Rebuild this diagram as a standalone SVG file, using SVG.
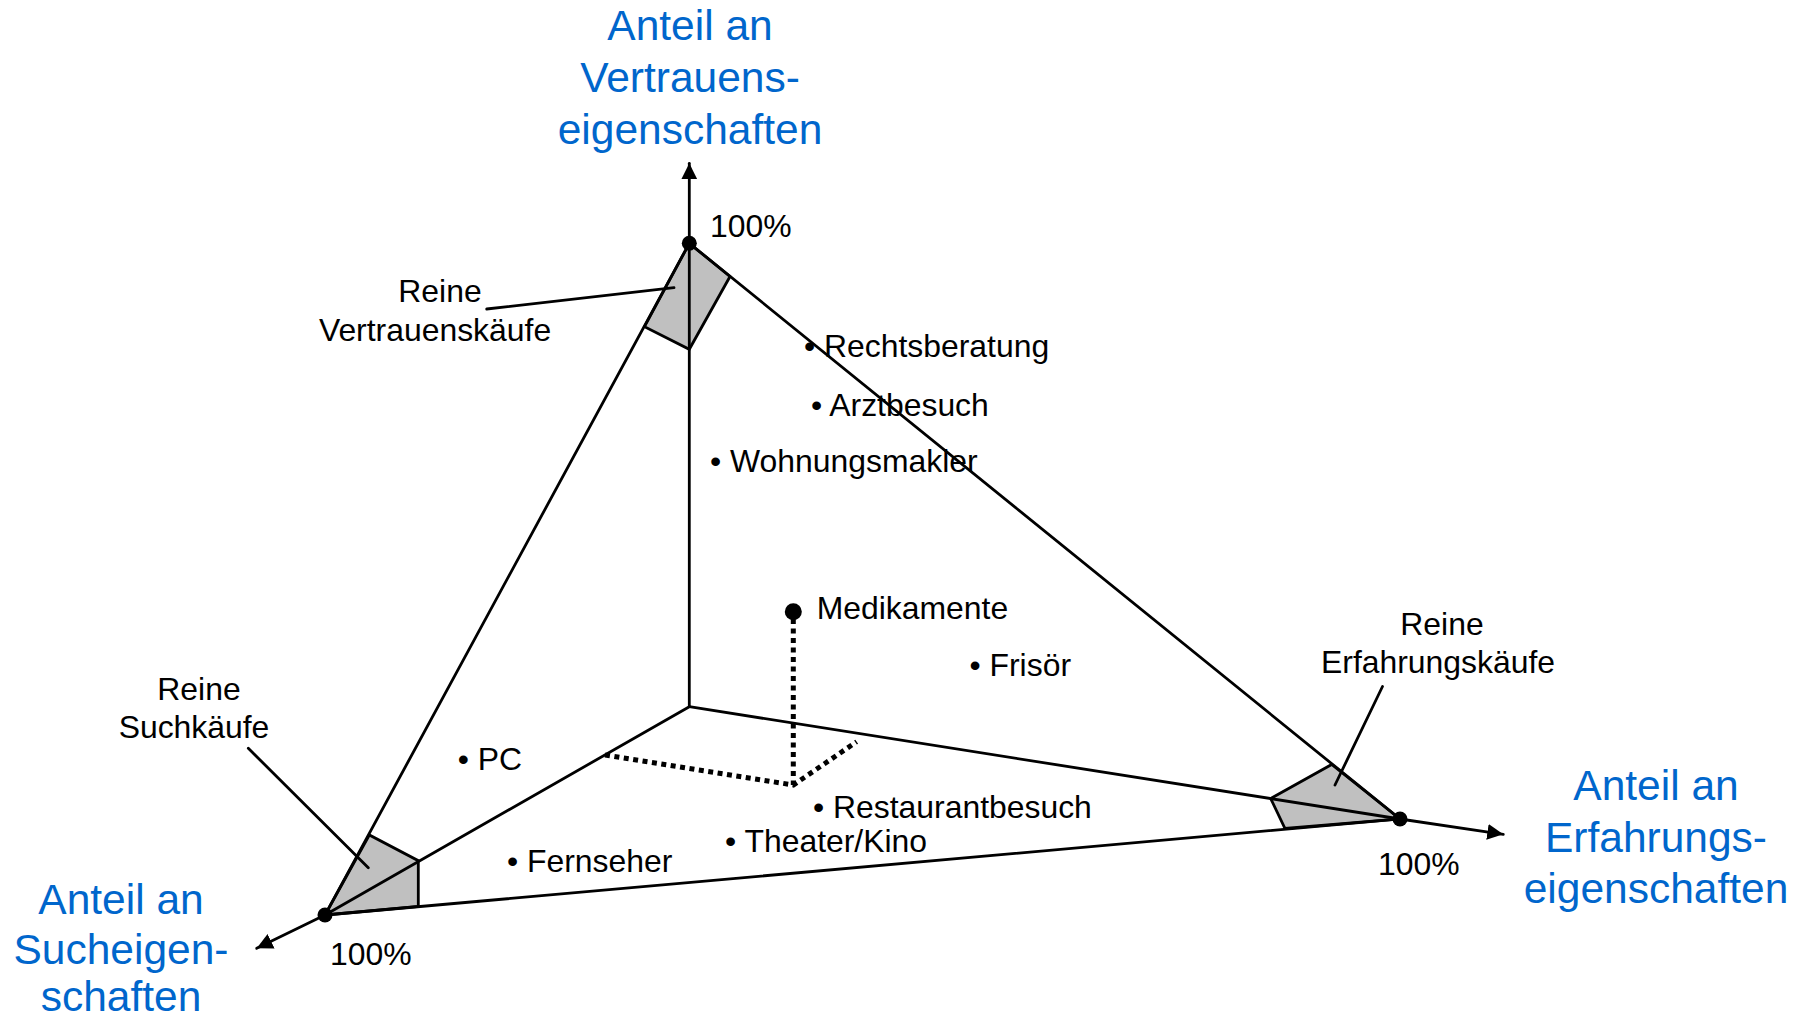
<svg xmlns="http://www.w3.org/2000/svg" width="1805" height="1021" viewBox="0 0 1805 1021">
  <style>
    .line { stroke: #000; stroke-width: 2.8; fill: none; stroke-linecap: round; }
    .zone { fill: #c0c0c0; stroke: #000; stroke-width: 2.8; stroke-linejoin: miter; }
    .dot { fill: #000; }
    .dotted { stroke: #000; stroke-width: 5; fill: none; stroke-dasharray: 5 4.5; }
    .lbl { font-family: "Liberation Sans", Arial, sans-serif; font-size: 31.9px; fill: #000; }
    .axis { font-family: "Liberation Sans", Arial, sans-serif; font-size: 42.5px; fill: #0066cc; text-anchor: middle; }
    .mid { text-anchor: middle; }
  </style>
  <defs>
    <marker id="arrow" viewBox="0 0 10 10" refX="10" refY="5" markerWidth="16" markerHeight="16" markerUnits="userSpaceOnUse" orient="auto">
      <path d="M0,0 L10,5 L0,10 z" fill="#000"/>
    </marker>
  </defs>
  <rect width="1805" height="1021" fill="#fff"/>

  <!-- corner regions of pure purchase types -->
  <g id="zone-vertrauen"><polygon class="zone" points="689.3,243.3 730,276.5 689.3,349.3 644.5,326.7"/></g>
  <g id="zone-such"><polygon class="zone" points="325,915 369.3,835 418.3,860.7 418.3,906.5"/></g>
  <g id="zone-erfahrung"><polygon class="zone" points="1400,819 1331.7,764.5 1270.7,798.5 1285,828.5"/></g>

  <!-- axes, triangle, leaders -->
  <g id="connectors">
    <line class="line" x1="689.3" y1="706.7" x2="689.3" y2="163.3" marker-end="url(#arrow)"/>
    <line class="line" x1="689.3" y1="706.7" x2="1400" y2="819"/>
    <line class="line" x1="1400" y1="819" x2="1503.3" y2="834.3" marker-end="url(#arrow)"/>
    <line class="line" x1="689.3" y1="706.7" x2="325" y2="915"/>
    <line class="line" x1="325" y1="915" x2="256.7" y2="948.3" marker-end="url(#arrow)"/>
    <polygon class="line" points="689.3,243.3 325,915 1400,819"/>
    <line class="line" x1="486.7" y1="309" x2="674" y2="287.7"/>
    <line class="line" x1="248.3" y1="748.3" x2="368.3" y2="867.7"/>
    <line class="line" x1="1382.5" y1="686.5" x2="1335" y2="785"/>
    <polyline class="dotted" points="605,755 793.3,785 856.7,741.7"/>
    <line class="dotted" x1="793.3" y1="619" x2="793.3" y2="785"/>
  </g>

  <!-- corner points -->
  <g id="vertex-top"><circle class="dot" cx="689.3" cy="243.3" r="7.5"/><text class="lbl" x="710" y="236.7">100%</text></g>
  <g id="vertex-left"><circle class="dot" cx="325" cy="915" r="7.5"/><text class="lbl" x="330" y="965">100%</text></g>
  <g id="vertex-right"><circle class="dot" cx="1400" cy="819" r="7.5"/><text class="lbl" x="1378" y="875">100%</text></g>

  <!-- axis titles -->
  <g id="axis-vertrauen">
    <text class="axis" x="690" y="40">Anteil an</text>
    <text class="axis" x="690" y="92">Vertrauens-</text>
    <text class="axis" x="690" y="144">eigenschaften</text>
  </g>
  <g id="axis-such">
    <text class="axis" x="121" y="914">Anteil an</text>
    <text class="axis" x="121" y="964">Sucheigen-</text>
    <text class="axis" x="121" y="1011">schaften</text>
  </g>
  <g id="axis-erfahrung">
    <text class="axis" x="1656" y="800">Anteil an</text>
    <text class="axis" x="1656" y="852">Erfahrungs-</text>
    <text class="axis" x="1656" y="903">eigenschaften</text>
  </g>

  <!-- region labels -->
  <g id="label-vertrauen">
    <text class="lbl mid" x="440" y="302">Reine</text>
    <text class="lbl mid" x="435" y="341">Vertrauenskäufe</text>
  </g>
  <g id="label-such">
    <text class="lbl mid" x="199" y="700">Reine</text>
    <text class="lbl mid" x="194" y="738">Suchkäufe</text>
  </g>
  <g id="label-erfahrung">
    <text class="lbl mid" x="1442" y="635">Reine</text>
    <text class="lbl mid" x="1438" y="673">Erfahrungskäufe</text>
  </g>

  <!-- example services and goods -->
  <g id="item-rechtsberatung"><text class="lbl" x="804" y="357">• Rechtsberatung</text></g>
  <g id="item-arztbesuch"><text class="lbl" x="811" y="415.5">• Arztbesuch</text></g>
  <g id="item-wohnungsmakler"><text class="lbl" x="710" y="472">• Wohnungsmakler</text></g>
  <g id="item-medikamente"><circle class="dot" cx="793.3" cy="611.7" r="8.5"/><text class="lbl" x="816.7" y="619.3">Medikamente</text></g>
  <g id="item-frisoer"><text class="lbl" x="969.5" y="675.7">• Frisör</text></g>
  <g id="item-pc"><text class="lbl" x="457.7" y="769.5">• PC</text></g>
  <g id="item-restaurantbesuch"><text class="lbl" x="813" y="818.3">• Restaurantbesuch</text></g>
  <g id="item-theater"><text class="lbl" x="725" y="851.7">• Theater/Kino</text></g>
  <g id="item-fernseher"><text class="lbl" x="507" y="871.7">• Fernseher</text></g>
</svg>
